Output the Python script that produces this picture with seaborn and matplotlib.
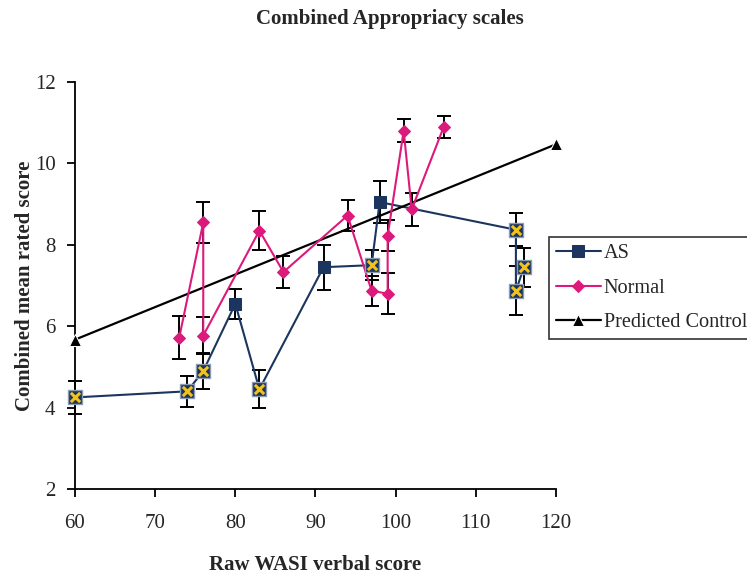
import pandas as pd
import numpy as np
import matplotlib
matplotlib.use('Agg')
import matplotlib.pyplot as plt
import seaborn as sns

sns.set_style('white')
plt.rcParams['font.family'] = ['Liberation Serif', 'DejaVu Serif']

# AS group (in drawing order)
as_x = [60, 74, 76, 80, 83, 91, 97, 98, 115, 115, 116]
as_y = [4.25, 4.4, 4.9, 6.55, 4.45, 7.45, 7.5, 9.05, 8.37, 6.87, 7.45]
as_err = [0.4, 0.38, 0.45, 0.37, 0.47, 0.55, 0.37, 0.52, 0.4, 0.6, 0.48]
as_cross = [True, True, True, False, True, False, True, False, True, True, True]

# Normal group
nor_x = [73, 76, 76, 83, 86, 94, 97, 99, 99, 101, 102, 106]
nor_y = [5.72, 8.55, 5.77, 8.35, 7.33, 8.72, 6.87, 6.8, 8.22, 10.8, 8.87, 10.9]
nor_err = [0.53, 0.5, 0.45, 0.48, 0.4, 0.37, 0.37, 0.5, 0.38, 0.28, 0.4, 0.27]

# predicted control line
pred_x = [60, 120]
pred_y = [5.67, 10.47]

navy = '#1b355e'
pink = '#dd1a7c'
yellow = '#f2c21b'

asDF = pd.DataFrame({'x': as_x, 'y': as_y})
norDF = pd.DataFrame({'x': nor_x, 'y': nor_y})
predDF = pd.DataFrame({'x': pred_x, 'y': pred_y})

fig = plt.figure(figsize=(7.47, 5.74), dpi=100)
ax = fig.add_axes([0.1004, 0.1481, 0.6439, 0.709])

#error bars first so the markers sit on top
ax.errorbar(as_x, as_y, yerr=as_err, fmt='none', ecolor='black', elinewidth=1.4,
            capsize=5, capthick=1.4, clip_on=False, zorder=2)
ax.errorbar(nor_x, nor_y, yerr=nor_err, fmt='none', ecolor='black', elinewidth=1.4,
            capsize=5, capthick=1.4, clip_on=False, zorder=2)

sns.lineplot(data=asDF, x='x', y='y', estimator=None, sort=False, color=navy, lw=1.5,
             marker='s', markersize=8, markeredgecolor=navy, ax=ax, label='AS', zorder=3)
sns.lineplot(data=norDF, x='x', y='y', estimator=None, sort=False, color=pink, lw=1.5,
             marker='D', markersize=6, markeredgecolor=pink, ax=ax, label='Normal', zorder=4)
sns.lineplot(data=predDF, x='x', y='y', estimator=None, sort=False, color='black', lw=1.6,
             marker='^', markersize=8, ax=ax, label='Predicted Control', zorder=3)

#yellow crosses on some AS points
cx = [a for a, c in zip(as_x, as_cross) if c]
cy = [b for b, c in zip(as_y, as_cross) if c]
ax.scatter(cx, cy, marker='s', s=110, color=navy, edgecolors='#8a9bb5', linewidths=1, zorder=5, clip_on=False)
ax.scatter(cx, cy, marker='x', s=45, color=yellow, linewidths=2.2, zorder=6, clip_on=False)

for ln in ax.lines:
    ln.set_clip_on(False)

ax.set_xlim(60, 120)
ax.set_ylim(2, 12)
ax.set_xticks(range(60, 121, 10))
ax.set_yticks(range(2, 13, 2))
sns.despine(ax=ax)
for s in ['left', 'bottom']:
    ax.spines[s].set_color('black')
    ax.spines[s].set_linewidth(1.3)
ax.tick_params(axis='both', direction='out', length=6, width=1.3, color='black',
               labelsize=15, bottom=True, left=True)
ax.tick_params(axis='x', pad=12)
ax.tick_params(axis='y', pad=8)

ax.set_xlabel('Raw WASI verbal score', fontsize=15, fontweight='bold', labelpad=16)
ax.set_ylabel('Combined mean rated score', fontsize=15, fontweight='bold', labelpad=0)
fig.suptitle('Combined Appropriacy scales', x=0.522, y=0.985, fontsize=15, fontweight='bold')

leg = ax.legend(loc='upper left', bbox_to_anchor=(549 / 747, 1 - 237 / 574),
                bbox_transform=fig.transFigure, frameon=True, fontsize=14.6,
                fancybox=False, borderaxespad=0, borderpad=0.35, handlelength=2.2,
                handletextpad=0.15, labelspacing=0.75)
leg.get_frame().set_edgecolor('black')
leg.get_frame().set_linewidth(1.2)

fig.savefig('out.png', dpi=100)
plt.close()
